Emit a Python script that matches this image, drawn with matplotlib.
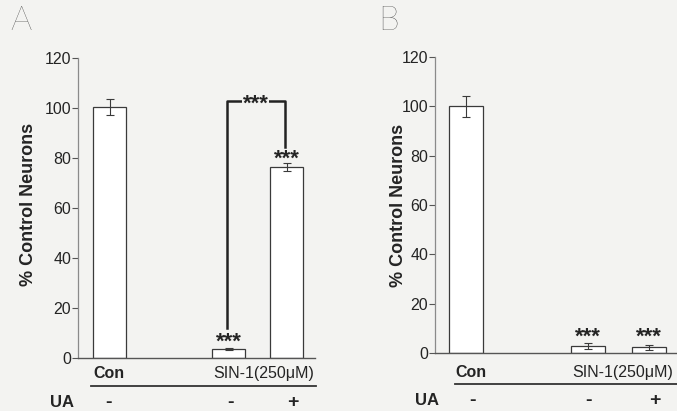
import matplotlib
matplotlib.use('Agg')
import matplotlib.pyplot as plt
import numpy as np

# values
groups = ['Con', 'SIN-', 'SIN+']
ua_signs = ['-', '-', '+']
a_vals = [100.3, 3.6, 76.4]
a_errs = [3.2, 0.5, 1.6]
b_vals = [100.0, 2.8, 2.3]
b_errs = [4.3, 1.2, 1.0]
yticks = [0, 20, 40, 60, 80, 100, 120]
treat_label = 'SIN-1(250\u03bcM)'
ylab = '% Control Neurons'

W, H = 677, 411
bg = '#f3f3f1'
ink = '#242424'
plt.rcParams['font.family'] = ['Liberation Sans', 'DejaVu Sans']

fig = plt.figure(figsize=(W / 100, H / 100), dpi=100, facecolor=bg)

def px(x, y):
	return x / W, 1 - y / H

def panel(left, right, top, bot, xs, bw, xmax, vals, errs):
	l, b = px(left, bot)
	r, t = px(right, top)
	ax = fig.add_axes([l, b, r - l, t - b])
	ax.set_facecolor('none')
	ax.bar(xs, vals, width=bw, color='white', edgecolor='#3a3a3a', linewidth=0.9, zorder=2)
	ax.errorbar(xs, vals, yerr=errs, fmt='none', ecolor='#3a3a3a', elinewidth=0.8, capsize=3, capthick=0.8, zorder=3)
	ax.set_xlim(0, xmax)
	ax.set_ylim(0, 120)
	ax.set_yticks(yticks)
	ax.set_yticklabels([str(v) for v in yticks], fontsize=11.5, color=ink)
	ax.tick_params(axis='y', length=4, width=0.8, pad=1, color='#555555')
	ax.set_xticks([])
	for s in ['top', 'right']:
		ax.spines[s].set_visible(False)
	ax.spines['left'].set_color('#8a8a8a')
	ax.spines['bottom'].set_color('#555555')
	ax.spines['left'].set_linewidth(0.9)
	ax.spines['bottom'].set_linewidth(1.0)
	return ax

def stars(ax, x, y, box=False):
	kw = {}
	if box:
		kw['bbox'] = dict(facecolor=bg, edgecolor='none', pad=0.2)
	ax.text(x, y, '***', ha='center', va='center', fontsize=16, fontweight='bold', color=ink, zorder=5, **kw)

# panel A
axA = panel(78, 315, 58, 358, [0.955, 4.56, 6.32], 1.0, 7.18, a_vals, a_errs)
axA.set_ylabel(ylab, fontsize=13, fontweight='bold', color=ink)
axA.yaxis.set_label_coords(-0.175, 0.513)
# bracket between SIN-1 groups
axA.plot([4.5, 4.5, 6.26, 6.26], [12, 103, 103, 84.5], color='#222222', lw=1.8, zorder=4)
stars(axA, 5.38, 101.5, box=True)
stars(axA, 4.56, 6.5)
stars(axA, 6.32, 79.5)

# panel B
axB = panel(435, 690, 57, 353, [0.91, 4.49, 6.29], 1.0, 7.5, b_vals, b_errs)
axB.set_ylabel(ylab, fontsize=13, fontweight='bold', color=ink)
axB.yaxis.set_label_coords(-0.11, 0.5)
stars(axB, 4.49, 6.5)
stars(axB, 6.29, 6.5)

# group labels under the axes
def labels(con_x, sin_x, y_lab, line_x0, line_x1, y_line, ua_x, sign_xs, y_ua):
	fig.text(*px(con_x, y_lab), groups[0], ha='center', va='center', fontsize=11.5, fontweight='bold', color=ink)
	fig.text(*px(sin_x, y_lab), treat_label, ha='center', va='center', fontsize=11.5, color=ink)
	x0, y0 = px(line_x0, y_line)
	x1, _ = px(line_x1, y_line)
	fig.add_artist(plt.Line2D([x0, x1], [y0, y0], color='#333333', lw=1.3))
	fig.text(*px(ua_x, y_ua), 'UA', ha='center', va='center', fontsize=12, fontweight='bold', color=ink)
	for sx, sg in zip(sign_xs, ua_signs):
		fig.text(*px(sx, y_ua), sg, ha='center', va='center', fontsize=14, fontweight='bold', color=ink)

labels(109, 264, 373, 91, 316, 386, 62, [109, 230, 293], 402)
labels(471, 623, 372, 455, 677, 384, 427, [472, 589, 655], 400)

fig.text(*px(21, 21), 'A', ha='center', va='center', fontsize=24, color='#3a3a3a', family=['Lato', 'DejaVu Sans'], fontweight='light')
fig.text(*px(388, 21), 'B', ha='center', va='center', fontsize=24, color='#3a3a3a', family=['Lato', 'DejaVu Sans'], fontweight='light')

fig.savefig('out.png', dpi=100, facecolor=bg)
